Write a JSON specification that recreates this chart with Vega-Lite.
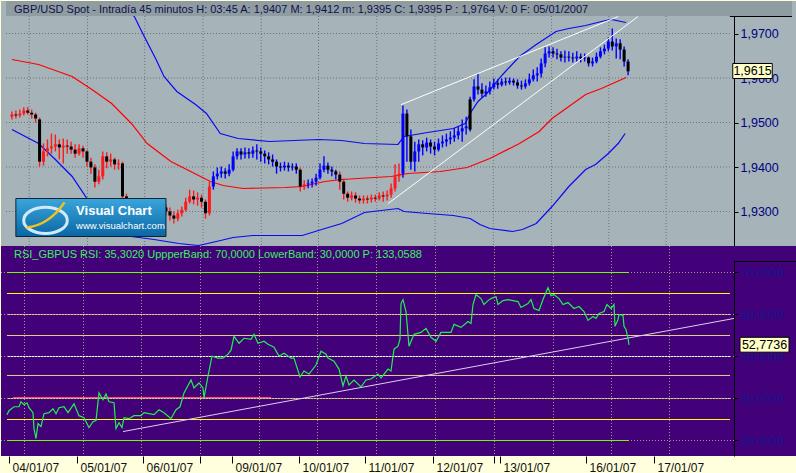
{
"$schema":"https://vega.github.io/schema/vega-lite/v6.json",
"background":"#FFFFDD",
"padding":0,
"spacing":0,
"bounds":"flush",
"config":{"view":{"stroke":null},"font":"Liberation Sans","title":{"anchor":"start","frame":"group","offset":-14,"dx":13,"fontSize":11,"fontWeight":"normal","font":"Liberation Sans"}},
"resolve":{"scale":{"x":"independent","y":"independent","color":"independent"}},
"datasets":{
"vgrid":[{"t":23.5},{"t":82.5},{"t":140.5},{"t":199.5},{"t":258.5},{"t":316.5},{"t":375.5},{"t":434.5},{"t":493.5},{"t":552.5},{"t":610.5},{"t":668.5}],
"pgrid":[{"p":1.93},{"p":1.94},{"p":1.95},{"p":1.96},{"p":1.97}],
"rgrid":[{"v":30},{"v":40},{"v":50},{"v":60},{"v":70}],
"ptrend":[{"t1":400,"p1":1.9540,"t2":620,"p2":1.9738},{"t1":387,"p1":1.9318,"t2":640,"p2":1.9738}],
"rtrend":[{"t1":122,"v1":32.13,"t2":733,"v2":59.06}],
"levels":[{"lvl":70,"kind":"outer","t0":6,"t1":628},{"lvl":65,"kind":"band","t0":6,"t1":729},{"lvl":60,"kind":"fib","t0":6,"t1":729},{"lvl":55,"kind":"fib","t0":6,"t1":729},{"lvl":50,"kind":"mid","t0":6,"t1":729},{"lvl":45.48,"kind":"fib","t0":6,"t1":729},{"lvl":40,"kind":"fib","t0":6,"t1":729},{"lvl":40.24,"kind":"hot","t0":12,"t1":270},{"lvl":35,"kind":"band","t0":6,"t1":729},{"lvl":30,"kind":"outer","t0":6,"t1":628}],
"ind":[
{"s":"upper","t":6,"p":1.99067},{"s":"upper","t":50,"p":1.98730},{"s":"upper","t":90,"p":1.98169},{"s":"upper","t":115,"p":1.97719},{"s":"upper","t":130,"p":1.97382},{"s":"upper","t":140,"p":1.96933},{"s":"upper","t":152,"p":1.96416},{"s":"upper","t":160,"p":1.96034},{"s":"upper","t":173,"p":1.95697},{"s":"upper","t":192,"p":1.95404},{"s":"upper","t":203,"p":1.95202},{"s":"upper","t":217,"p":1.94753},{"s":"upper","t":235,"p":1.94640},{"s":"upper","t":267,"p":1.94573},{"s":"upper","t":317,"p":1.94618},{"s":"upper","t":340,"p":1.94596},{"s":"upper","t":363,"p":1.94528},{"s":"upper","t":397,"p":1.94506},{"s":"upper","t":403,"p":1.94685},{"s":"upper","t":427,"p":1.94775},{"s":"upper","t":453,"p":1.94865},{"s":"upper","t":465,"p":1.94978},{"s":"upper","t":470,"p":1.95202},{"s":"upper","t":478,"p":1.95472},{"s":"upper","t":487,"p":1.95652},{"s":"upper","t":503,"p":1.96079},{"s":"upper","t":520,"p":1.96483},{"s":"upper","t":537,"p":1.96753},{"s":"upper","t":557,"p":1.97045},{"s":"upper","t":570,"p":1.97112},{"s":"upper","t":587,"p":1.97180},{"s":"upper","t":603,"p":1.97270},{"s":"upper","t":613,"p":1.97315},{"s":"upper","t":623,"p":1.97270},{"s":"upper","t":628,"p":1.97247},
{"s":"lower","t":6,"p":1.94843},{"s":"lower","t":33,"p":1.94528},{"s":"lower","t":50,"p":1.94169},{"s":"lower","t":67,"p":1.93787},{"s":"lower","t":82,"p":1.93292},{"s":"lower","t":100,"p":1.92888},{"s":"lower","t":115,"p":1.92596},{"s":"lower","t":127,"p":1.92438},{"s":"lower","t":150,"p":1.92371},{"s":"lower","t":175,"p":1.92281},{"s":"lower","t":195,"p":1.92236},{"s":"lower","t":213,"p":1.92326},{"s":"lower","t":230,"p":1.92416},{"s":"lower","t":250,"p":1.92461},{"s":"lower","t":300,"p":1.92461},{"s":"lower","t":323,"p":1.92618},{"s":"lower","t":340,"p":1.92730},{"s":"lower","t":363,"p":1.92978},{"s":"lower","t":397,"p":1.93067},{"s":"lower","t":403,"p":1.93000},{"s":"lower","t":427,"p":1.92955},{"s":"lower","t":453,"p":1.92910},{"s":"lower","t":470,"p":1.92843},{"s":"lower","t":480,"p":1.92708},{"s":"lower","t":490,"p":1.92618},{"s":"lower","t":513,"p":1.92551},{"s":"lower","t":523,"p":1.92596},{"s":"lower","t":537,"p":1.92730},{"s":"lower","t":553,"p":1.93112},{"s":"lower","t":570,"p":1.93562},{"s":"lower","t":587,"p":1.93944},{"s":"lower","t":597,"p":1.94056},{"s":"lower","t":610,"p":1.94303},{"s":"lower","t":620,"p":1.94528},{"s":"lower","t":627,"p":1.94753},
{"s":"ma","t":6,"p":1.96416},{"s":"ma","t":33,"p":1.96303},{"s":"ma","t":67,"p":1.96034},{"s":"ma","t":87,"p":1.95742},{"s":"ma","t":107,"p":1.95427},{"s":"ma","t":127,"p":1.94978},{"s":"ma","t":143,"p":1.94528},{"s":"ma","t":167,"p":1.94124},{"s":"ma","t":187,"p":1.93899},{"s":"ma","t":207,"p":1.93674},{"s":"ma","t":220,"p":1.93584},{"s":"ma","t":240,"p":1.93517},{"s":"ma","t":283,"p":1.93539},{"s":"ma","t":300,"p":1.93562},{"s":"ma","t":323,"p":1.93674},{"s":"ma","t":340,"p":1.93719},{"s":"ma","t":373,"p":1.93764},{"s":"ma","t":390,"p":1.93787},{"s":"ma","t":407,"p":1.93854},{"s":"ma","t":440,"p":1.93899},{"s":"ma","t":467,"p":1.93989},{"s":"ma","t":490,"p":1.94191},{"s":"ma","t":520,"p":1.94528},{"s":"ma","t":540,"p":1.94798},{"s":"ma","t":553,"p":1.95090},{"s":"ma","t":570,"p":1.95360},{"s":"ma","t":587,"p":1.95629},{"s":"ma","t":603,"p":1.95764},{"s":"ma","t":628,"p":1.96011}
],
"bars":[
{"t":6,"o":1.9513,"h":1.9525,"l":1.9507,"c":1.9518,"s":"dn"},
{"t":10,"o":1.9518,"h":1.9527,"l":1.9509,"c":1.9516,"s":"dn"},
{"t":14,"o":1.9516,"h":1.9529,"l":1.9511,"c":1.9520,"s":"dn"},
{"t":18,"o":1.9520,"h":1.9534,"l":1.9516,"c":1.9527,"s":"dn"},
{"t":22,"o":1.9527,"h":1.9534,"l":1.9518,"c":1.9522,"s":"dn"},
{"t":26,"o":1.9522,"h":1.9529,"l":1.9509,"c":1.9518,"s":"dn"},
{"t":30,"o":1.9518,"h":1.9522,"l":1.9500,"c":1.9509,"s":"dn"},
{"t":34,"o":1.9507,"h":1.9511,"l":1.9401,"c":1.9412,"s":"dn"},
{"t":38,"o":1.9412,"h":1.9453,"l":1.9403,"c":1.9435,"s":"dn"},
{"t":42,"o":1.9435,"h":1.9462,"l":1.9424,"c":1.9442,"s":"dn"},
{"t":46,"o":1.9442,"h":1.9475,"l":1.9430,"c":1.9446,"s":"dn"},
{"t":50,"o":1.9446,"h":1.9473,"l":1.9435,"c":1.9451,"s":"dn"},
{"t":54,"o":1.9451,"h":1.9462,"l":1.9417,"c":1.9444,"s":"dn"},
{"t":58,"o":1.9444,"h":1.9464,"l":1.9408,"c":1.9448,"s":"dn"},
{"t":62,"o":1.9448,"h":1.9462,"l":1.9430,"c":1.9446,"s":"dn"},
{"t":66,"o":1.9446,"h":1.9457,"l":1.9430,"c":1.9439,"s":"dn"},
{"t":70,"o":1.9439,"h":1.9451,"l":1.9421,"c":1.9430,"s":"dn"},
{"t":74,"o":1.9430,"h":1.9451,"l":1.9426,"c":1.9442,"s":"dn"},
{"t":78,"o":1.9442,"h":1.9448,"l":1.9421,"c":1.9435,"s":"dn"},
{"t":82,"o":1.9435,"h":1.9439,"l":1.9401,"c":1.9412,"s":"dn"},
{"t":86,"o":1.9412,"h":1.9421,"l":1.9385,"c":1.9399,"s":"dn"},
{"t":90,"o":1.9399,"h":1.9406,"l":1.9354,"c":1.9367,"s":"dn"},
{"t":94,"o":1.9367,"h":1.9394,"l":1.9361,"c":1.9379,"s":"dn"},
{"t":98,"o":1.9379,"h":1.9435,"l":1.9372,"c":1.9424,"s":"dn"},
{"t":102,"o":1.9424,"h":1.9433,"l":1.9397,"c":1.9412,"s":"dn"},
{"t":106,"o":1.9412,"h":1.9430,"l":1.9401,"c":1.9417,"s":"dn"},
{"t":110,"o":1.9417,"h":1.9421,"l":1.9394,"c":1.9406,"s":"dn"},
{"t":114,"o":1.9406,"h":1.9417,"l":1.9394,"c":1.9408,"s":"dn"},
{"t":118,"o":1.9408,"h":1.9412,"l":1.9322,"c":1.9334,"s":"dn"},
{"t":122,"o":1.9334,"h":1.9340,"l":1.9300,"c":1.9311,"s":"dn"},
{"t":126,"o":1.9311,"h":1.9322,"l":1.9289,"c":1.9300,"s":"dn"},
{"t":130,"o":1.9300,"h":1.9316,"l":1.9291,"c":1.9304,"s":"dn"},
{"t":134,"o":1.9304,"h":1.9311,"l":1.9282,"c":1.9296,"s":"dn"},
{"t":138,"o":1.9296,"h":1.9309,"l":1.9287,"c":1.9300,"s":"dn"},
{"t":142,"o":1.9300,"h":1.9307,"l":1.9280,"c":1.9291,"s":"dn"},
{"t":146,"o":1.9291,"h":1.9304,"l":1.9282,"c":1.9296,"s":"dn"},
{"t":150,"o":1.9296,"h":1.9313,"l":1.9291,"c":1.9304,"s":"dn"},
{"t":154,"o":1.9304,"h":1.9313,"l":1.9291,"c":1.9300,"s":"dn"},
{"t":158,"o":1.9300,"h":1.9318,"l":1.9293,"c":1.9309,"s":"dn"},
{"t":162,"o":1.9309,"h":1.9316,"l":1.9291,"c":1.9300,"s":"dn"},
{"t":166,"o":1.9300,"h":1.9309,"l":1.9280,"c":1.9291,"s":"dn"},
{"t":170,"o":1.9291,"h":1.9300,"l":1.9273,"c":1.9284,"s":"dn"},
{"t":174,"o":1.9284,"h":1.9304,"l":1.9278,"c":1.9296,"s":"dn"},
{"t":178,"o":1.9296,"h":1.9311,"l":1.9289,"c":1.9304,"s":"dn"},
{"t":182,"o":1.9304,"h":1.9331,"l":1.9300,"c":1.9322,"s":"dn"},
{"t":186,"o":1.9322,"h":1.9349,"l":1.9318,"c":1.9334,"s":"dn"},
{"t":190,"o":1.9334,"h":1.9347,"l":1.9316,"c":1.9327,"s":"dn"},
{"t":194,"o":1.9327,"h":1.9343,"l":1.9313,"c":1.9331,"s":"dn"},
{"t":198,"o":1.9331,"h":1.9338,"l":1.9309,"c":1.9322,"s":"dn"},
{"t":202,"o":1.9322,"h":1.9327,"l":1.9284,"c":1.9296,"s":"dn"},
{"t":206,"o":1.9296,"h":1.9367,"l":1.9291,"c":1.9356,"s":"dn"},
{"t":210,"o":1.9356,"h":1.9390,"l":1.9349,"c":1.9379,"s":"up"},
{"t":214,"o":1.9379,"h":1.9399,"l":1.9372,"c":1.9385,"s":"up"},
{"t":218,"o":1.9385,"h":1.9401,"l":1.9376,"c":1.9390,"s":"up"},
{"t":222,"o":1.9390,"h":1.9397,"l":1.9374,"c":1.9385,"s":"up"},
{"t":226,"o":1.9385,"h":1.9406,"l":1.9379,"c":1.9394,"s":"up"},
{"t":230,"o":1.9394,"h":1.9435,"l":1.9390,"c":1.9424,"s":"up"},
{"t":234,"o":1.9424,"h":1.9442,"l":1.9417,"c":1.9435,"s":"up"},
{"t":238,"o":1.9435,"h":1.9442,"l":1.9417,"c":1.9428,"s":"up"},
{"t":242,"o":1.9428,"h":1.9444,"l":1.9419,"c":1.9433,"s":"up"},
{"t":246,"o":1.9433,"h":1.9442,"l":1.9419,"c":1.9430,"s":"up"},
{"t":250,"o":1.9430,"h":1.9446,"l":1.9421,"c":1.9437,"s":"up"},
{"t":254,"o":1.9437,"h":1.9451,"l":1.9417,"c":1.9435,"s":"up"},
{"t":258,"o":1.9435,"h":1.9444,"l":1.9412,"c":1.9430,"s":"up"},
{"t":262,"o":1.9430,"h":1.9437,"l":1.9408,"c":1.9424,"s":"up"},
{"t":266,"o":1.9424,"h":1.9433,"l":1.9406,"c":1.9417,"s":"up"},
{"t":270,"o":1.9417,"h":1.9428,"l":1.9401,"c":1.9412,"s":"up"},
{"t":274,"o":1.9412,"h":1.9417,"l":1.9385,"c":1.9401,"s":"up"},
{"t":278,"o":1.9401,"h":1.9410,"l":1.9390,"c":1.9399,"s":"up"},
{"t":282,"o":1.9399,"h":1.9412,"l":1.9392,"c":1.9403,"s":"up"},
{"t":286,"o":1.9403,"h":1.9410,"l":1.9390,"c":1.9399,"s":"up"},
{"t":290,"o":1.9399,"h":1.9408,"l":1.9392,"c":1.9401,"s":"up"},
{"t":294,"o":1.9401,"h":1.9408,"l":1.9385,"c":1.9394,"s":"up"},
{"t":298,"o":1.9394,"h":1.9399,"l":1.9345,"c":1.9356,"s":"dn"},
{"t":302,"o":1.9356,"h":1.9370,"l":1.9349,"c":1.9361,"s":"dn"},
{"t":306,"o":1.9361,"h":1.9372,"l":1.9352,"c":1.9363,"s":"up"},
{"t":310,"o":1.9363,"h":1.9374,"l":1.9354,"c":1.9367,"s":"up"},
{"t":314,"o":1.9367,"h":1.9385,"l":1.9358,"c":1.9376,"s":"up"},
{"t":318,"o":1.9376,"h":1.9408,"l":1.9372,"c":1.9394,"s":"up"},
{"t":322,"o":1.9394,"h":1.9424,"l":1.9388,"c":1.9403,"s":"up"},
{"t":326,"o":1.9403,"h":1.9410,"l":1.9385,"c":1.9394,"s":"up"},
{"t":330,"o":1.9394,"h":1.9401,"l":1.9379,"c":1.9390,"s":"up"},
{"t":334,"o":1.9390,"h":1.9394,"l":1.9372,"c":1.9383,"s":"up"},
{"t":338,"o":1.9383,"h":1.9390,"l":1.9349,"c":1.9367,"s":"dn"},
{"t":342,"o":1.9367,"h":1.9374,"l":1.9327,"c":1.9340,"s":"dn"},
{"t":346,"o":1.9340,"h":1.9345,"l":1.9322,"c":1.9331,"s":"dn"},
{"t":350,"o":1.9331,"h":1.9345,"l":1.9325,"c":1.9336,"s":"dn"},
{"t":354,"o":1.9336,"h":1.9343,"l":1.9320,"c":1.9329,"s":"dn"},
{"t":358,"o":1.9329,"h":1.9336,"l":1.9318,"c":1.9325,"s":"dn"},
{"t":362,"o":1.9325,"h":1.9336,"l":1.9318,"c":1.9329,"s":"dn"},
{"t":366,"o":1.9329,"h":1.9336,"l":1.9318,"c":1.9327,"s":"dn"},
{"t":370,"o":1.9327,"h":1.9338,"l":1.9320,"c":1.9331,"s":"dn"},
{"t":374,"o":1.9331,"h":1.9338,"l":1.9322,"c":1.9329,"s":"dn"},
{"t":378,"o":1.9329,"h":1.9343,"l":1.9325,"c":1.9336,"s":"dn"},
{"t":382,"o":1.9336,"h":1.9345,"l":1.9322,"c":1.9334,"s":"dn"},
{"t":386,"o":1.9334,"h":1.9347,"l":1.9325,"c":1.9338,"s":"dn"},
{"t":390,"o":1.9338,"h":1.9363,"l":1.9331,"c":1.9352,"s":"dn"},
{"t":394,"o":1.9352,"h":1.9406,"l":1.9345,"c":1.9379,"s":"dn"},
{"t":398,"o":1.9379,"h":1.9408,"l":1.9367,"c":1.9385,"s":"dn"},
{"t":402,"o":1.9385,"h":1.9538,"l":1.9376,"c":1.9520,"s":"up"},
{"t":406,"o":1.9520,"h":1.9529,"l":1.9412,"c":1.9469,"s":"up"},
{"t":410,"o":1.9469,"h":1.9484,"l":1.9394,"c":1.9412,"s":"up"},
{"t":414,"o":1.9412,"h":1.9457,"l":1.9390,"c":1.9435,"s":"up"},
{"t":418,"o":1.9435,"h":1.9462,"l":1.9412,"c":1.9451,"s":"up"},
{"t":422,"o":1.9451,"h":1.9460,"l":1.9426,"c":1.9444,"s":"up"},
{"t":426,"o":1.9444,"h":1.9466,"l":1.9435,"c":1.9455,"s":"up"},
{"t":430,"o":1.9455,"h":1.9462,"l":1.9430,"c":1.9446,"s":"up"},
{"t":434,"o":1.9446,"h":1.9457,"l":1.9426,"c":1.9439,"s":"up"},
{"t":438,"o":1.9439,"h":1.9464,"l":1.9435,"c":1.9453,"s":"up"},
{"t":442,"o":1.9453,"h":1.9471,"l":1.9444,"c":1.9457,"s":"up"},
{"t":446,"o":1.9457,"h":1.9475,"l":1.9446,"c":1.9462,"s":"up"},
{"t":450,"o":1.9462,"h":1.9480,"l":1.9451,"c":1.9466,"s":"up"},
{"t":454,"o":1.9466,"h":1.9487,"l":1.9457,"c":1.9471,"s":"up"},
{"t":458,"o":1.9471,"h":1.9491,"l":1.9462,"c":1.9480,"s":"up"},
{"t":462,"o":1.9480,"h":1.9507,"l":1.9457,"c":1.9487,"s":"up"},
{"t":466,"o":1.9487,"h":1.9513,"l":1.9473,"c":1.9491,"s":"up"},
{"t":470,"o":1.9552,"h":1.9558,"l":1.9480,"c":1.9484,"s":"up"},
{"t":474,"o":1.9552,"h":1.9597,"l":1.9547,"c":1.9581,"s":"up"},
{"t":478,"o":1.9581,"h":1.9610,"l":1.9563,"c":1.9574,"s":"up"},
{"t":482,"o":1.9574,"h":1.9588,"l":1.9556,"c":1.9565,"s":"up"},
{"t":486,"o":1.9565,"h":1.9583,"l":1.9558,"c":1.9570,"s":"up"},
{"t":490,"o":1.9570,"h":1.9592,"l":1.9563,"c":1.9579,"s":"up"},
{"t":494,"o":1.9579,"h":1.9599,"l":1.9574,"c":1.9588,"s":"up"},
{"t":498,"o":1.9588,"h":1.9597,"l":1.9576,"c":1.9585,"s":"up"},
{"t":502,"o":1.9585,"h":1.9599,"l":1.9581,"c":1.9592,"s":"up"},
{"t":506,"o":1.9592,"h":1.9601,"l":1.9583,"c":1.9590,"s":"up"},
{"t":510,"o":1.9590,"h":1.9601,"l":1.9585,"c":1.9594,"s":"up"},
{"t":514,"o":1.9594,"h":1.9599,"l":1.9583,"c":1.9590,"s":"up"},
{"t":518,"o":1.9590,"h":1.9597,"l":1.9576,"c":1.9583,"s":"up"},
{"t":522,"o":1.9583,"h":1.9594,"l":1.9574,"c":1.9581,"s":"up"},
{"t":526,"o":1.9581,"h":1.9597,"l":1.9576,"c":1.9588,"s":"up"},
{"t":530,"o":1.9588,"h":1.9610,"l":1.9583,"c":1.9597,"s":"up"},
{"t":534,"o":1.9597,"h":1.9619,"l":1.9592,"c":1.9606,"s":"up"},
{"t":538,"o":1.9606,"h":1.9624,"l":1.9592,"c":1.9610,"s":"up"},
{"t":542,"o":1.9610,"h":1.9644,"l":1.9601,"c":1.9633,"s":"up"},
{"t":546,"o":1.9633,"h":1.9669,"l":1.9624,"c":1.9655,"s":"up"},
{"t":550,"o":1.9655,"h":1.9671,"l":1.9646,"c":1.9660,"s":"up"},
{"t":554,"o":1.9660,"h":1.9669,"l":1.9646,"c":1.9655,"s":"up"},
{"t":558,"o":1.9655,"h":1.9666,"l":1.9642,"c":1.9653,"s":"up"},
{"t":562,"o":1.9653,"h":1.9660,"l":1.9637,"c":1.9646,"s":"up"},
{"t":566,"o":1.9646,"h":1.9662,"l":1.9635,"c":1.9648,"s":"up"},
{"t":570,"o":1.9648,"h":1.9660,"l":1.9637,"c":1.9646,"s":"up"},
{"t":574,"o":1.9646,"h":1.9657,"l":1.9635,"c":1.9644,"s":"up"},
{"t":578,"o":1.9644,"h":1.9660,"l":1.9637,"c":1.9648,"s":"up"},
{"t":582,"o":1.9648,"h":1.9655,"l":1.9635,"c":1.9644,"s":"up"},
{"t":586,"o":1.9644,"h":1.9655,"l":1.9637,"c":1.9646,"s":"up"},
{"t":590,"o":1.9646,"h":1.9648,"l":1.9626,"c":1.9633,"s":"up"},
{"t":594,"o":1.9633,"h":1.9646,"l":1.9626,"c":1.9637,"s":"up"},
{"t":598,"o":1.9637,"h":1.9657,"l":1.9633,"c":1.9648,"s":"up"},
{"t":602,"o":1.9648,"h":1.9669,"l":1.9644,"c":1.9660,"s":"up"},
{"t":606,"o":1.9660,"h":1.9675,"l":1.9653,"c":1.9666,"s":"up"},
{"t":610,"o":1.9666,"h":1.9691,"l":1.9660,"c":1.9682,"s":"up"},
{"t":614,"o":1.9682,"h":1.9711,"l":1.9662,"c":1.9671,"s":"up"},
{"t":618,"o":1.9671,"h":1.9689,"l":1.9644,"c":1.9678,"s":"up"},
{"t":622,"o":1.9678,"h":1.9687,"l":1.9642,"c":1.9664,"s":"up"},
{"t":626,"o":1.9664,"h":1.9671,"l":1.9626,"c":1.9637,"s":"up"},
{"t":630,"o":1.9637,"h":1.9642,"l":1.9606,"c":1.9615,"s":"up"}
],
"rsi":[
{"t":6,"v":36.14},{"t":8,"v":37.09},{"t":13,"v":38.03},{"t":18,"v":38.03},{"t":20,"v":39.21},{"t":23,"v":38.51},{"t":26,"v":38.98},{"t":28,"v":37.80},{"t":32,"v":36.62},{"t":33,"v":32.83},{"t":35,"v":30.47},{"t":37,"v":34.02},{"t":40,"v":33.31},{"t":43,"v":36.38},{"t":48,"v":36.62},{"t":52,"v":37.56},{"t":55,"v":36.38},{"t":58,"v":37.80},{"t":63,"v":38.03},{"t":67,"v":36.62},{"t":73,"v":38.74},{"t":78,"v":35.91},{"t":83,"v":35.43},{"t":88,"v":33.07},{"t":92,"v":34.49},{"t":95,"v":34.73},{"t":98,"v":41.34},{"t":102,"v":39.69},{"t":105,"v":41.10},{"t":108,"v":39.21},{"t":113,"v":38.98},{"t":115,"v":32.83},{"t":118,"v":34.25},{"t":121,"v":33.07},{"t":123,"v":35.43},{"t":128,"v":35.20},{"t":133,"v":35.91},{"t":140,"v":35.91},{"t":143,"v":36.62},{"t":153,"v":36.14},{"t":158,"v":37.32},{"t":163,"v":36.62},{"t":170,"v":35.20},{"t":175,"v":37.32},{"t":179,"v":38.03},{"t":183,"v":41.34},{"t":190,"v":44.41},{"t":193,"v":42.52},{"t":198,"v":43.70},{"t":202,"v":42.52},{"t":203,"v":40.16},{"t":207,"v":45.36},{"t":211,"v":50.08},{"t":217,"v":49.61},{"t":222,"v":49.61},{"t":227,"v":50.55},{"t":230,"v":51.50},{"t":233,"v":54.81},{"t":238,"v":53.15},{"t":243,"v":54.34},{"t":250,"v":54.10},{"t":253,"v":55.28},{"t":257,"v":53.15},{"t":263,"v":53.63},{"t":267,"v":52.92},{"t":273,"v":52.21},{"t":278,"v":50.08},{"t":283,"v":50.79},{"t":290,"v":49.61},{"t":293,"v":49.61},{"t":299,"v":45.12},{"t":303,"v":46.54},{"t":308,"v":45.83},{"t":315,"v":47.96},{"t":320,"v":51.26},{"t":325,"v":50.55},{"t":327,"v":49.61},{"t":333,"v":48.90},{"t":338,"v":47.01},{"t":342,"v":42.99},{"t":345,"v":45.36},{"t":348,"v":43.23},{"t":353,"v":44.41},{"t":360,"v":42.76},{"t":365,"v":44.41},{"t":370,"v":44.65},{"t":377,"v":45.83},{"t":380,"v":44.88},{"t":387,"v":47.01},{"t":390,"v":46.54},{"t":393,"v":51.74},{"t":397,"v":52.45},{"t":399,"v":54.10},{"t":400,"v":62.60},{"t":402,"v":63.55},{"t":405,"v":60.71},{"t":408,"v":52.45},{"t":413,"v":55.28},{"t":420,"v":55.75},{"t":425,"v":56.70},{"t":430,"v":54.57},{"t":435,"v":53.63},{"t":440,"v":55.75},{"t":450,"v":55.75},{"t":453,"v":57.64},{"t":460,"v":56.93},{"t":467,"v":58.35},{"t":470,"v":57.88},{"t":472,"v":62.37},{"t":475,"v":64.73},{"t":480,"v":63.79},{"t":483,"v":62.37},{"t":487,"v":63.31},{"t":490,"v":63.79},{"t":495,"v":64.26},{"t":497,"v":62.37},{"t":502,"v":63.31},{"t":507,"v":63.55},{"t":512,"v":63.31},{"t":517,"v":63.08},{"t":520,"v":61.66},{"t":527,"v":62.60},{"t":530,"v":63.55},{"t":533,"v":61.42},{"t":538,"v":60.95},{"t":542,"v":63.55},{"t":547,"v":66.39},{"t":550,"v":64.49},{"t":553,"v":64.73},{"t":558,"v":63.79},{"t":562,"v":62.37},{"t":567,"v":62.84},{"t":573,"v":61.42},{"t":578,"v":61.90},{"t":583,"v":60.71},{"t":587,"v":58.59},{"t":592,"v":59.53},{"t":595,"v":59.06},{"t":598,"v":60.24},{"t":603,"v":60.71},{"t":606,"v":62.37},{"t":610,"v":61.42},{"t":613,"v":62.37},{"t":614,"v":57.17},{"t":617,"v":58.82},{"t":618,"v":60.01},{"t":622,"v":59.77},{"t":623,"v":57.17},{"t":625,"v":56.46},{"t":627,"v":54.34},{"t":628,"v":52.77}
]
},
"vconcat":[
{
"width":796,"height":245,
"view":{"fill":"#A6B3B9","stroke":null},
"title":{"text":"GBP/USD Spot - Intradía 45 minutos  H: 03:45  A: 1,9407  M: 1,9412  m: 1,9395  C: 1,9395  P : 1,9764  V: 0  F: 05/01/2007","color":"#10104a"},
"layer":[
{"data":{"name":"vgrid"},"mark":{"type":"rule","stroke":"#6a7479","strokeDash":[1,2]},
 "encoding":{"x":{"field":"t","type":"quantitative","scale":{"domain":[0,796],"nice":false,"zero":false},"axis":null}}},
{"data":{"name":"pgrid"},"mark":{"type":"rule","stroke":"#6a7479","strokeDash":[1,2]},
 "encoding":{
  "y":{"field":"p","type":"quantitative","scale":{"domain":[1.9222472,1.9773034],"nice":false,"zero":false},
       "axis":{"orient":"right","offset":-63,"values":[1.93,1.94,1.95,1.96,1.97],"labelExpr":"replace(format(datum.value, '.4f'), '.', ',')","grid":false,"title":null,"domain":true,"domainColor":"#000000","domainWidth":1,"ticks":true,"tickColor":"#000000","tickSize":4,"labels":true,"labelPadding":2,"labelColor":"#000080","labelFontSize":12.5,"labelFont":"Liberation Sans","zindex":0}},
  "x":{"datum":0,"type":"quantitative","axis":null},"x2":{"datum":733}}},
{"data":{"name":"ind"},"mark":{"type":"line","strokeWidth":1.2,"clip":true},
 "encoding":{
  "x":{"field":"t","type":"quantitative","scale":{"domain":[0,796],"nice":false,"zero":false},"axis":null},
  "y":{"field":"p","type":"quantitative","scale":{"domain":[1.9222472,1.9773034],"nice":false,"zero":false}},
  "color":{"field":"s","type":"nominal","scale":{"domain":["upper","lower","ma","dn","up"],"range":["#0a0af0","#0a0af0","#ff0000","#ff1a1a","#0000ff"]},"legend":null}}},
{"data":{"name":"bars"},"mark":{"type":"rule","strokeWidth":1.4,"clip":true},
 "encoding":{
  "x":{"field":"t","type":"quantitative","scale":{"domain":[0,796],"nice":false,"zero":false},"axis":null},
  "y":{"field":"h","type":"quantitative","scale":{"domain":[1.9222472,1.9773034],"nice":false,"zero":false}},
  "y2":{"field":"l"},
  "color":{"field":"s","type":"nominal","scale":{"domain":["upper","lower","ma","dn","up"],"range":["#0a0af0","#0a0af0","#ff0000","#ff1a1a","#0000ff"]},"legend":null}}},
{"data":{"name":"bars"},"mark":{"type":"bar","width":3,"clip":true},
 "encoding":{
  "x":{"field":"t","type":"quantitative","scale":{"domain":[0,796],"nice":false,"zero":false},"axis":null},
  "y":{"field":"o","type":"quantitative","scale":{"domain":[1.9222472,1.9773034],"nice":false,"zero":false}},
  "y2":{"field":"c"},
  "color":{"condition":{"test":"datum.c < datum.o","value":"#000000"},"field":"s","type":"nominal","scale":{"domain":["upper","lower","ma","dn","up"],"range":["#0a0af0","#0a0af0","#ff0000","#ff1a1a","#0000ff"]},"legend":null}}},
{"data":{"name":"ptrend"},"mark":{"type":"rule","stroke":"#ffffff","strokeWidth":1,"clip":true},
 "encoding":{
  "x":{"field":"t1","type":"quantitative","scale":{"domain":[0,796],"nice":false,"zero":false},"axis":null},
  "y":{"field":"p1","type":"quantitative","scale":{"domain":[1.9222472,1.9773034],"nice":false,"zero":false}},
  "x2":{"field":"t2"},"y2":{"field":"p2"}}},
{"data":{"values":[{}]},"mark":{"type":"rect","fill":"#8F9CA2"},
 "encoding":{"x":{"datum":0,"type":"quantitative","axis":null},"x2":{"datum":796},"y":{"datum":1.9739326,"type":"quantitative"},"y2":{"datum":1.9773034}}},
{"data":{"values":[{}]},"mark":{"type":"rule","stroke":"#000000","strokeWidth":1},
 "encoding":{"x":{"datum":733,"type":"quantitative","axis":null},"x2":{"datum":796},"y":{"datum":1.9738202,"type":"quantitative"}}},
{"data":{"values":[{}]},"mark":{"type":"rect","fill":"#FFFFC8","stroke":"#000000","strokeWidth":1},
 "encoding":{"x":{"datum":736,"type":"quantitative","axis":null},"x2":{"datum":776},"y":{"datum":1.96326,"type":"quantitative"},"y2":{"datum":1.95989}}},
{"data":{"values":[{}]},"mark":{"type":"text","text":"1,9615","fontSize":12.5,"color":"#000000","align":"center","baseline":"middle","font":"Liberation Sans"},
 "encoding":{"x":{"datum":756,"type":"quantitative","axis":null},"y":{"datum":1.96155,"type":"quantitative"}}},
{"data":{"values":[{}]},"mark":{"type":"rect","stroke":"#0b2436","strokeWidth":1,"fill":{"gradient":"linear","x1":0,"y1":0,"x2":0,"y2":1,"stops":[{"offset":0,"color":"#3aa6dc"},{"offset":1,"color":"#0a66a4"}]}},
 "encoding":{"x":{"datum":10,"type":"quantitative","axis":null},"x2":{"datum":162},"y":{"datum":1.93292,"type":"quantitative"},"y2":{"datum":1.92438}}},
{"data":{"values":[{}]},"mark":{"type":"point","shape":"M-1,0A1,0.6,0,1,0,1,0A1,0.6,0,1,0,-1,0Z","size":1900,"filled":false,"stroke":"#cfe9ff","strokeWidth":3,"opacity":1},
 "encoding":{"x":{"datum":40,"type":"quantitative","axis":null},"y":{"datum":1.9280,"type":"quantitative"}}},
{"data":{"values":[{}]},"mark":{"type":"point","shape":"M-0.95,0.55C-0.3,0.5,0.4,0.1,0.95,-0.7","size":1600,"filled":false,"stroke":"#f2c21e","strokeWidth":2.5,"opacity":1},
 "encoding":{"x":{"datum":40,"type":"quantitative","axis":null},"y":{"datum":1.9289,"type":"quantitative"}}},
{"data":{"values":[{}]},"mark":{"type":"text","text":"Visual Chart","fontSize":13,"fontWeight":"bold","color":"#ffffff","align":"left","baseline":"middle","font":"Liberation Sans"},
 "encoding":{"x":{"datum":71,"type":"quantitative","axis":null},"y":{"datum":1.9302,"type":"quantitative"}}},
{"data":{"values":[{}]},"mark":{"type":"text","text":"www.visualchart.com","fontSize":9.5,"color":"#ffffff","align":"left","baseline":"middle","font":"Liberation Sans"},
 "encoding":{"x":{"datum":71,"type":"quantitative","axis":null},"y":{"datum":1.92674,"type":"quantitative"}}}
]
},
{
"width":796,"height":210,
"view":{"fill":"#420079","stroke":null},
"title":{"text":"RSI_GBPUS RSI: 35,3020  UppperBand: 70,0000  LowerBand: 30,0000  P: 133,0588","color":"#3cf060"},
"layer":[
{"data":{"name":"vgrid"},"mark":{"type":"rule","stroke":"#a0a078","strokeDash":[1,2]},
 "encoding":{"x":{"field":"t","type":"quantitative","scale":{"domain":[0,796],"nice":false,"zero":false},
  "axis":{"orient":"bottom","values":[8,76,142,199,231,298,364,432,493,499,585,653],"labelExpr":"datum.value == 8 ? '04/01/07' : datum.value == 76 ? '05/01/07' : datum.value == 142 ? '06/01/07' : datum.value == 231 ? '09/01/07' : datum.value == 298 ? '10/01/07' : datum.value == 364 ? '11/01/07' : datum.value == 432 ? '12/01/07' : datum.value == 499 ? '13/01/07' : datum.value == 585 ? '16/01/07' : datum.value == 653 ? '17/01/07' : ''","ticks":true,"tickSize":7,"tickColor":"#000000","tickWidth":1,"domain":false,"grid":false,"title":null,"labels":true,"labelAlign":"left","labelOffset":3,"labelBaseline":"top","labelPadding":-1,"labelFontSize":12,"labelFont":"Liberation Sans","labelColor":"#111111","labelOverlap":false,"labelBound":false,"labelFlush":false,"zindex":0}}}},
{"data":{"name":"rgrid"},"mark":{"type":"rule","stroke":"#a0a078","strokeDash":[1,2]},
 "encoding":{
  "y":{"field":"v","type":"quantitative","scale":{"domain":[26.3095,76.3095],"nice":false,"zero":false},
       "axis":{"orient":"right","offset":-63,"values":[30,40,50,60,70],"labelExpr":"replace(format(datum.value, '.4f'), '.', ',')","grid":false,"title":null,"domain":true,"domainColor":"#000000","ticks":true,"tickColor":"#000000","tickSize":4,"labels":true,"labelPadding":2,"labelColor":"#14168e","labelFontSize":12,"labelFont":"Liberation Sans","zindex":0}},
  "x":{"datum":0,"type":"quantitative"},"x2":{"datum":733}}},
{"data":{"values":[{}]},"mark":{"type":"rect","fill":"#420079"},
 "encoding":{"x":{"datum":731,"type":"quantitative"},"x2":{"datum":736},"y":{"datum":76.3095,"type":"quantitative"},"y2":{"datum":72.619}}},
{"data":{"values":[{}]},"mark":{"type":"rule","stroke":"#000000","strokeWidth":1},
 "encoding":{"x":{"datum":733,"type":"quantitative"},"x2":{"datum":796},"y":{"datum":72.619,"type":"quantitative"}}},
{"data":{"name":"levels"},"mark":{"type":"rule","strokeWidth":1},
 "encoding":{
  "x":{"field":"t0","type":"quantitative","scale":{"domain":[0,796],"nice":false,"zero":false}},
  "x2":{"field":"t1"},
  "y":{"field":"lvl","type":"quantitative","scale":{"domain":[26.3095,76.3095],"nice":false,"zero":false}},
  "color":{"field":"kind","type":"nominal","scale":{"domain":["outer","band","fib","mid","hot"],"range":["#70ff00","#ffff10","#e8cc8c","#ffffff","#ff4a7a"]},"legend":null}}},
{"data":{"name":"rgrid"},"transform":[{"filter":"datum.v >= 40 && datum.v <= 60"}],"mark":{"type":"rule","stroke":"#8c8c84","strokeDash":[1,2]},
 "encoding":{
  "y":{"field":"v","type":"quantitative","scale":{"domain":[26.3095,76.3095],"nice":false,"zero":false}},
  "x":{"datum":6,"type":"quantitative"},"x2":{"datum":729}}},
{"data":{"name":"rtrend"},"mark":{"type":"rule","stroke":"#dcd0ee","strokeWidth":1},
 "encoding":{
  "x":{"field":"t1","type":"quantitative","scale":{"domain":[0,796],"nice":false,"zero":false}},
  "y":{"field":"v1","type":"quantitative","scale":{"domain":[26.3095,76.3095],"nice":false,"zero":false}},
  "x2":{"field":"t2"},"y2":{"field":"v2"}}},
{"data":{"name":"rsi"},"mark":{"type":"line","stroke":"#22f050","strokeWidth":1.2},
 "encoding":{
  "x":{"field":"t","type":"quantitative","scale":{"domain":[0,796],"nice":false,"zero":false}},
  "y":{"field":"v","type":"quantitative","scale":{"domain":[26.3095,76.3095],"nice":false,"zero":false}}}},
{"data":{"values":[{}]},"mark":{"type":"rect","fill":"#FFFFC8","stroke":"#000000","strokeWidth":1},
 "encoding":{"x":{"datum":739,"type":"quantitative"},"x2":{"datum":788},"y":{"datum":54.57,"type":"quantitative"},"y2":{"datum":51.03}}},
{"data":{"values":[{}]},"mark":{"type":"text","text":"52,7736","fontSize":12.5,"color":"#000000","align":"center","baseline":"middle","font":"Liberation Sans"},
 "encoding":{"x":{"datum":763.5,"type":"quantitative"},"y":{"datum":52.8,"type":"quantitative"}}}
]
}
]
}
